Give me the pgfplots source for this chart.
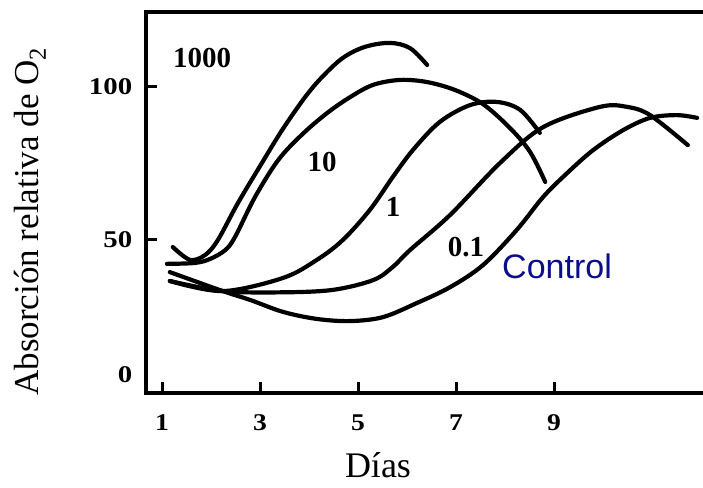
\documentclass[border=0pt]{standalone}
\usepackage{fontspec}
\setmainfont{Liberation Serif}
\newfontfamily\arialfont{Liberation Sans}
\usepackage{pgfplots}
\pgfplotsset{compat=1.18}
\definecolor{navyc}{RGB}{13,13,140}
\begin{document}
\begin{tikzpicture}
\begin{axis}[
  scale only axis, width=557pt, height=381pt,
  xmin=0.673, xmax=12.04, ymin=0, ymax=124.5,
  axis x line*=bottom, axis y line*=left,
  axis line style={line width=3.5pt, line cap=rect},
  xtick={1,3,5,7,9}, ytick={0,50,100},
  yticklabels={\raisebox{18pt}[\height][\depth]{0},50,100},
  tick align=inside, major tick length=11pt,
  tick style={line width=3pt, black},
  xticklabel style={font=\fontsize{24}{24}\selectfont\bfseries, xscale=1.15, yshift=-18pt},
  yticklabel style={font=\fontsize{24}{24}\selectfont\bfseries, xscale=1.2, xshift=-8pt},
  /pgf/number format/assume math mode=true,
  clip=false,
  every axis plot post/.append style={black, mark=none, line width=4.2pt, line cap=round, smooth, tension=0.55},
]
\coordinate (O) at (rel axis cs:0,0);
\draw[line width=3.5pt, line cap=rect] (rel axis cs:0,1) -- (rel axis cs:1,1);
% 1000
\addplot coordinates {(1.22,47.7) (1.57,43.5) (1.88,45.1) (2.14,50.0) (2.55,62.1) (3.04,75.2) (3.45,85.9) (3.92,96.7) (4.27,103.3) (4.69,109.5) (5.14,113.1) (5.65,114.4) (6.06,112.7) (6.41,107.2)};
% 10
\addplot coordinates {(1.10,42.2) (1.67,42.5) (1.98,43.8) (2.29,46.7) (2.49,51.0) (2.90,64.1) (3.37,76.1) (3.86,84.5) (4.37,91.5) (4.84,96.7) (5.31,100.7) (5.86,102.3) (6.41,101.6) (6.98,99.0) (7.55,94.4) (8.10,86.6) (8.51,78.8) (8.82,69.0)};
% 1
\addplot coordinates {(1.16,36.6) (2.24,33.3) (3.47,37.6) (4.16,43.5) (4.69,50.0) (5.24,59.8) (5.71,70.6) (6.12,79.4) (6.67,88.6) (7.29,94.1) (7.84,95.1) (8.31,92.5) (8.71,85.0)};
% 0.1
\addplot coordinates {(1.16,36.6) (2.24,33.3) (3.47,32.9) (4.49,33.7) (5.31,36.9) (5.71,41.2) (6.06,46.7) (6.88,58.2) (7.90,75.2) (8.78,86.9) (9.94,93.5) (10.49,93.5) (10.96,90.8) (11.73,81.0)};
% Control
\addplot coordinates {(1.16,39.5) (2.24,33.3) (2.80,30.4) (3.47,26.5) (4.16,24.2) (4.84,23.5) (5.51,24.8) (6.20,29.4) (6.88,34.6) (7.55,41.8) (8.24,53.3) (8.78,64.1) (9.27,71.9) (9.80,79.4) (10.41,85.9) (10.96,89.9) (11.51,90.8) (11.92,89.9)};
\node[font=\fontsize{29}{29}\selectfont\bfseries] at (axis cs:1.816,109.5) {1000};
\node[font=\fontsize{29}{29}\selectfont\bfseries] at (axis cs:4.265,75.5) {10};
\node[font=\fontsize{29}{29}\selectfont\bfseries] at (axis cs:5.714,60.8) {1};
\node[font=\fontsize{29}{29}\selectfont\bfseries] at (axis cs:7.204,47.7) {0.1};
\node[font=\fontsize{34}{34}\selectfont\arialfont, text=navyc] at (axis cs:9.061,41.5) {Control};
\node[rotate=90, font=\fontsize{35}{35}\selectfont] at ([xshift=-116pt]rel axis cs:0,0.45) {Absorción relativa de O\textsubscript{2}};
\node[font=\fontsize{36}{36}\selectfont] at ([yshift=-72pt]rel axis cs:0.4165,0) {Días};
\end{axis}
\pgfresetboundingbox
\path (O) ++(-146pt,-94pt) rectangle ++(703pt,487pt);
\end{tikzpicture}
\end{document}
